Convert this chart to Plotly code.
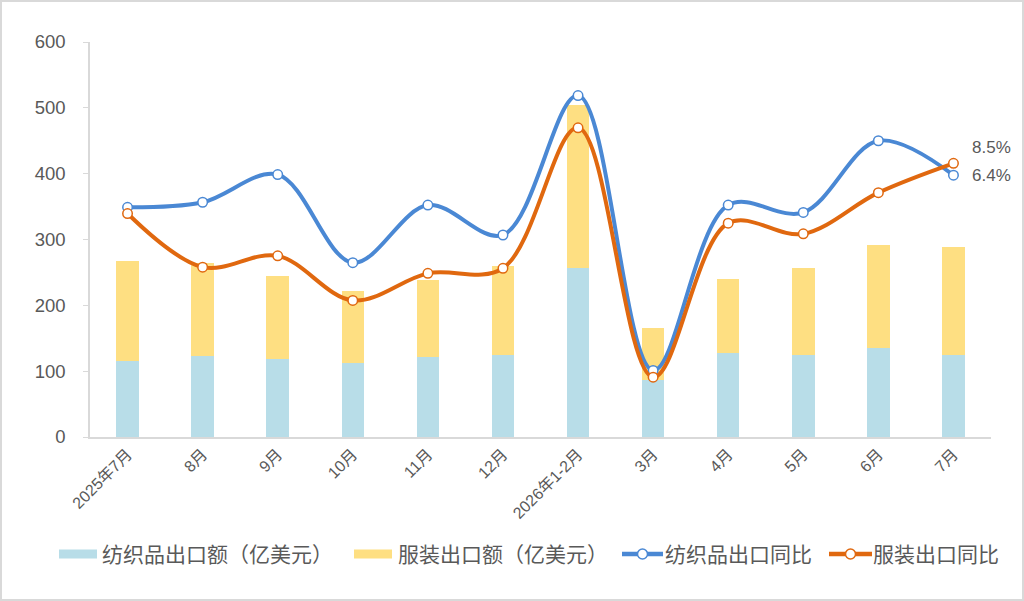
import plotly.graph_objects as go

months = ['2025年7月', '8月', '9月', '10月', '11月', '12月', '2026年1-2月',
          '3月', '4月', '5月', '6月', '7月']
textile_exports = [115.5, 123.5, 119, 112.5, 122, 125, 256, 86.6, 127, 125, 135.7, 124]
apparel_exports = [152, 141.5, 126, 109.5, 117, 135.5, 248.5, 79, 113, 131, 156.3, 164]
textile_yoy = [0.7, 1.6, 6.5, -9.1, 1.1, -4.2, 20.5, -28.2, 1.1, -0.2, 12.5, 6.4]
apparel_yoy = [-0.4, -9.9, -7.9, -15.8, -11.0, -10.1, 14.8, -29.4, -2.1, -4.0, 3.3, 8.5]

font_family = 'Liberation Sans, Noto Sans CJK SC, sans-serif'
grey = '#595959'
blue = '#4A88D4'
orange = '#E0680F'
bar_blue = '#B8DDE8'
bar_yellow = '#FEDF82'

W, H = 1024, 601
ML, MR, MT, MB = 90, 33, 42, 164
pw, ph = W - ML - MR, H - MT - MB


def px_x(p):
    return (p - ML) / pw


def px_y(p):
    return (H - MB - p) / ph


fig = go.Figure()

fig.add_bar(x=months, y=textile_exports, name='纺织品出口额（亿美元）',
            marker=dict(color=bar_blue, line=dict(width=0)), width=0.3)
fig.add_bar(x=months, y=apparel_exports, name='服装出口额（亿美元）',
            marker=dict(color=bar_yellow, line=dict(width=0)), width=0.3)

fig.add_scatter(x=months, y=textile_yoy, name='纺织品出口同比', yaxis='y2',
                mode='lines+markers',
                line=dict(color=blue, width=4, shape='spline', smoothing=1),
                marker=dict(symbol='circle', size=9.5, color='white',
                            line=dict(color=blue, width=1.5)))
fig.add_scatter(x=months, y=apparel_yoy, name='服装出口同比', yaxis='y2',
                mode='lines+markers',
                line=dict(color=orange, width=4, shape='spline', smoothing=1),
                marker=dict(symbol='circle', size=9.5, color='white',
                            line=dict(color=orange, width=1.5)))

# value labels on the last point
fig.add_annotation(x=months[-1], y=apparel_yoy[-1], yref='y2',
                   text=f'{apparel_yoy[-1]}%', showarrow=False,
                   xanchor='left', xshift=17, yshift=16,
                   font=dict(size=17, color=grey))
fig.add_annotation(x=months[-1], y=textile_yoy[-1], yref='y2',
                   text=f'{textile_yoy[-1]}%', showarrow=False,
                   xanchor='left', xshift=17, yshift=0,
                   font=dict(size=17, color=grey))

# hand-made legend along the bottom (Excel style spacing)
ly = 554
legend_items = [
    ('bar', bar_blue, 59, 97, 100, '纺织品出口额（亿美元）'),
    ('bar', bar_yellow, 354, 392, 396, '服装出口额（亿美元）'),
    ('line', blue, 622, 663, 663, '纺织品出口同比'),
    ('line', orange, 829, 872, 871, '服装出口同比'),
]
for kind, col, x0, x1, tx, label in legend_items:
    if kind == 'bar':
        fig.add_shape(type='rect', xref='paper', yref='paper',
                      x0=px_x(x0), x1=px_x(x1), y0=px_y(ly + 4.5), y1=px_y(ly - 4.5),
                      fillcolor=col, line=dict(width=0))
    else:
        fig.add_shape(type='line', xref='paper', yref='paper',
                      x0=px_x(x0), x1=px_x(x1), y0=px_y(ly), y1=px_y(ly),
                      line=dict(color=col, width=4.5))
        cx = (x0 + x1) / 2
        fig.add_shape(type='circle', xref='paper', yref='paper',
                      x0=px_x(cx - 5), x1=px_x(cx + 5), y0=px_y(ly + 5), y1=px_y(ly - 5),
                      fillcolor='white', line=dict(color=col, width=1.5))
    fig.add_annotation(xref='paper', yref='paper', x=px_x(tx), y=px_y(ly),
                       text=label, showarrow=False, xanchor='left', yanchor='middle',
                       font=dict(size=21, color=grey))

# light frame round the whole chart
fig.add_shape(type='rect', xref='paper', yref='paper',
              x0=px_x(1), x1=px_x(W - 1), y0=px_y(H - 1), y1=px_y(1),
              line=dict(color='#D9D9D9', width=2))

fig.update_layout(
    width=W, height=H,
    margin=dict(l=ML, r=MR, t=MT, b=MB),
    barmode='stack',
    plot_bgcolor='white', paper_bgcolor='white',
    font=dict(family=font_family, color=grey, size=16),
    showlegend=False,
    xaxis=dict(range=[-0.5, len(months) - 0.5], showline=True, linecolor='#D9D9D9',
               linewidth=1.5, ticks='', tickangle=-45,
               tickfont=dict(size=16, color=grey), showgrid=False, automargin=False),
    yaxis=dict(range=[0, 600], dtick=100, showline=True, linecolor='#D9D9D9',
               linewidth=1.5, ticks='outside', ticklen=5, tickcolor='#D9D9D9',
               ticklabelstandoff=14, automargin=False,
               showgrid=False, zeroline=False, tickfont=dict(size=18.5, color=grey)),
    yaxis2=dict(range=[-40, 30], overlaying='y', side='right', visible=False,
                showgrid=False, zeroline=False),
)

fig.write_html('out.html', config={'displayModeBar': False},
               post_script="document.body.style.margin='0';")
